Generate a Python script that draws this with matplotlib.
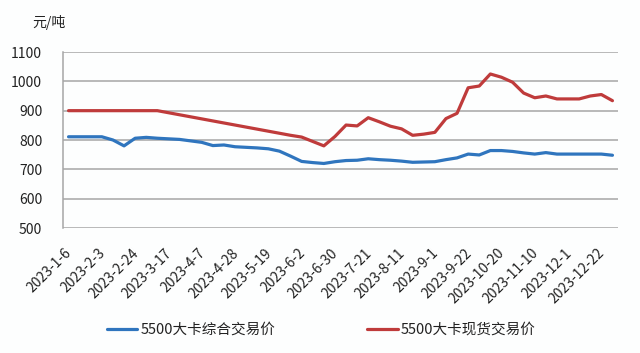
import matplotlib
matplotlib.use("Agg")
import matplotlib.pyplot as plt
import matplotlib.transforms as mtransforms

plt.rcParams['font.family'] = ['Noto Sans CJK SC', 'DejaVu Sans']

dates = ["2023-1-6", "2023-1-13", "2023-1-20", "2023-2-3", "2023-2-10", "2023-2-17",
         "2023-2-24", "2023-3-3", "2023-3-10", "2023-3-17", "2023-3-24", "2023-3-31",
         "2023-4-7", "2023-4-14", "2023-4-21", "2023-4-28", "2023-5-5", "2023-5-12",
         "2023-5-19", "2023-5-26", "2023-5-31", "2023-6-2", "2023-6-9", "2023-6-16",
         "2023-6-30", "2023-7-7", "2023-7-14", "2023-7-21", "2023-7-28", "2023-8-4",
         "2023-8-11", "2023-8-18", "2023-8-25", "2023-9-1", "2023-9-8", "2023-9-15",
         "2023-9-22", "2023-9-28", "2023-10-13", "2023-10-20", "2023-10-27", "2023-11-3",
         "2023-11-10", "2023-11-17", "2023-11-24", "2023-12-1", "2023-12-8", "2023-12-15",
         "2023-12-22", "2023-12-29"]

composite = [811, 811, 811, 811, 800, 780, 806, 809, 806, 804,
             802, 797, 792, 781, 783, 777, 775, 773, 770, 762,
             745, 727, 723, 720, 726, 730, 731, 736, 733, 731,
             728, 724, 725, 726, 733, 739, 752, 749, 764, 764,
             761, 756, 752, 757, 752, 752, 752, 752, 752, 748]

spot = [900, 900, 900, 900, 900, 900, 900, 900, 900, 893,
        886, 879, 872, 865, 858, 851, 844, 837, 830, 823,
        816, 810, 795, 780, 812, 851, 848, 876, 862, 847,
        838, 816, 820, 826, 873, 891, 978, 984, 1025, 1014,
        997, 960, 944, 950, 940, 940, 940, 950, 955, 934]

series_names = ["5500大卡综合交易价", "5500大卡现货交易价"]
yticks = [500, 600, 700, 800, 900, 1000, 1100]
unit_label = "元/吨"

fig = plt.figure(figsize=(6.4, 3.53), dpi=100)
fig.patch.set_facecolor('#FDFEFE')
ax = fig.add_axes([63/640, 1-228/353, (618-63)/640, (228-52)/353])
ax.set_facecolor('#FDFEFE')

x = list(range(len(dates)))
ax.plot(x, composite, color='#2F75BE', lw=2.3, label=series_names[0], solid_capstyle='round')
ax.plot(x, spot, color='#BF3B3B', lw=2.3, label=series_names[1], solid_capstyle='round')

ax.set_xlim(-0.5, len(dates) - 0.5)
ax.set_ylim(500, 1100)
ax.set_yticks(yticks)
ax.set_yticklabels([str(v) for v in yticks], fontsize=10, color='#222222')
ax.yaxis.grid(True, color='#A6A6A6', lw=1.1)
ax.set_axisbelow(True)

for s in ['top', 'right', 'bottom']:
    ax.spines[s].set_visible(False)
ax.spines['left'].set_color('#A6A6A6')
ax.spines['left'].set_linewidth(1.1)
ax.tick_params(axis='y', length=0, pad=15)
ax.tick_params(axis='x', length=0, pad=13)

tick_idx = list(range(0, len(dates), 3))
ax.set_xticks(tick_idx)
labels = ax.set_xticklabels([dates[i] for i in tick_idx], rotation=45, ha='right',
                            fontsize=10, color='#222222')
offset = mtransforms.ScaledTranslation(6/100, 0, fig.dpi_scale_trans)
for lab in labels:
    lab.set_transform(lab.get_transform() + offset)

fig.text(32/640, 1-22/353, unit_label, ha='left', va='center', fontsize=10, color='#222222')

fig.legend(loc='center', bbox_to_anchor=(321/640, 1-330/353), ncol=2, frameon=False,
           fontsize=10.5, handlelength=2.1, handletextpad=0.2, columnspacing=6.3,
           labelcolor='#222222')

fig.savefig('out.png', dpi=100, facecolor=fig.get_facecolor())
